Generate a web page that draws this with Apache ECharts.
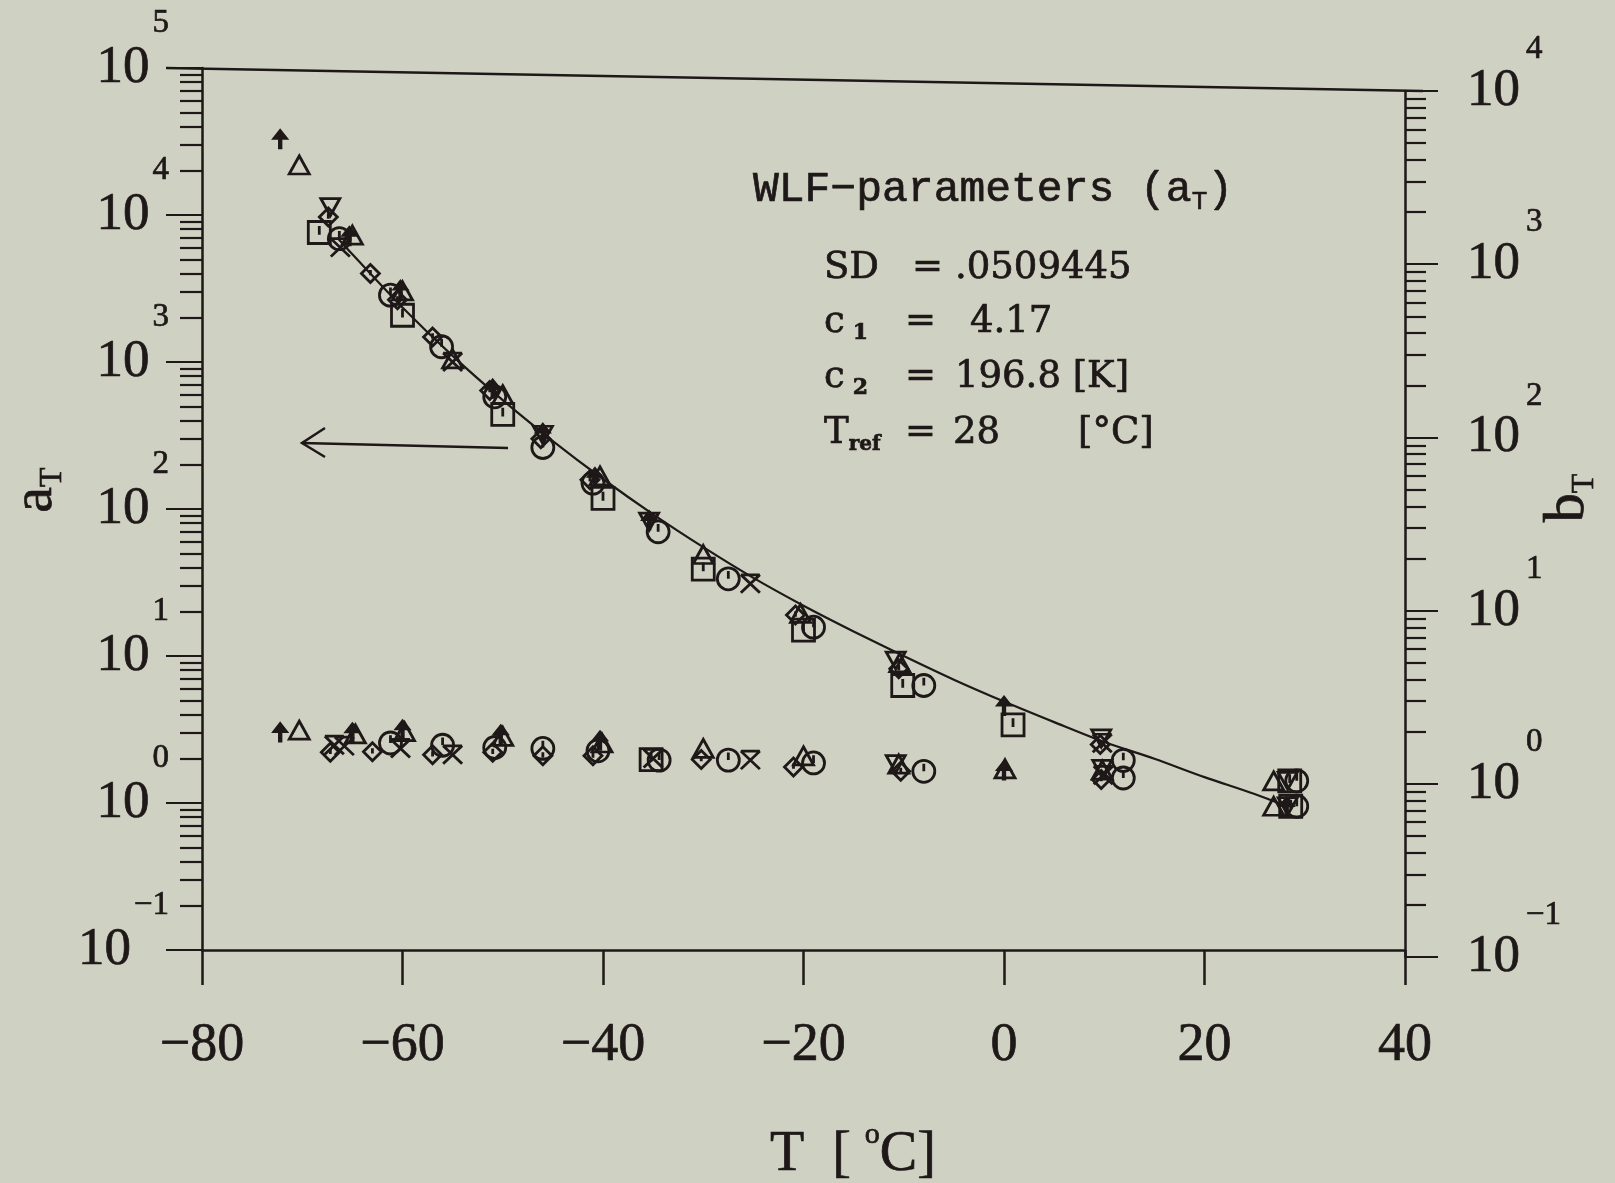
<!DOCTYPE html>
<html>
<head>
<meta charset="utf-8">
<script src="https://cdn.jsdelivr.net/npm/echarts@6/dist/echarts.min.js"></script>
<style>
html,body{margin:0;padding:0;background:#cfd1c2;}
#chart{width:1615px;height:1183px;}
</style>
</head>
<body>
<div id="chart"></div>
<script>
// ---------------- data ----------------
const xTickValues = [-80, -60, -40, -20, 0, 20, 40];

// WLF fit line, a_T versus T
const curveT = [-66.5, -65, -60, -55, -50, -45, -40, -35, -30, -25, -20, -15, -10, -5, 0, 5, 10, 15, 20, 25, 28];
const curveA = [7000, 5400, 2350, 1100, 550, 290, 160, 92, 55, 34, 22, 14.7, 10, 6.9, 4.9, 3.55, 2.6, 2.0, 1.5, 1.15, 0.96];

// shift factors a_T (left axis) by marker
const aTriangle = [[-70.3, 21900], [-65, 7300], [-60, 3050], [-55, 1050], [-50, 600], [-40.3, 168], [-30, 49], [-20.3, 19.5], [-10.4, 9.0], [26.9, 0.95]];
const aArrow    = [[-72.2, 32900], [-65.3, 7200], [-60.2, 3100], [-51, 660], [-46, 330], [-40.8, 165], [-35.4, 84], [0, 4.6], [28.2, 0.95]];
const aInvTri   = [[-67.2, 11300], [-46, 320], [-35.4, 82], [-10.8, 9.3], [9.7, 2.75], [28.3, 0.95]];
const aDiamond  = [[-67.4, 9700], [-63.2, 4000], [-60.5, 2650], [-57, 1480], [-51.3, 640], [-46.2, 300], [-41.3, 158], [-20.8, 19], [-10.5, 8.2], [9.6, 2.5]];
const aCircle   = [[-66.3, 6900], [-61.2, 2850], [-56.1, 1270], [-50.8, 580], [-46, 262], [-41, 150], [-34.5, 70], [-27.5, 33.5], [-19, 15.7], [-8, 6.3], [11.9, 1.95], [29.2, 0.95]];
const aSquare   = [[-68.3, 7600], [-60, 2080], [-50, 440], [-40, 118], [-30, 39], [-20, 15], [-10.1, 6.3], [0.9, 3.4], [28.6, 0.95]];
const aCross    = [[-66.2, 6000], [-55, 1000], [-25.3, 31], [9.8, 2.55]];

// shift factors b_T (right axis) by marker
const bArrow    = [[-72.2, 1.99], [-65, 1.98], [-60, 2.06], [-50.2, 1.93], [-40.3, 1.78], [0, 1.2]];
const bTriangle = [[-70.3, 2.04], [-64.7, 1.94], [-59.8, 2.0], [-50, 1.88], [-40.1, 1.72], [-30, 1.6], [-20, 1.45], [-10.5, 1.3], [0.1, 1.22], [9.8, 1.2], [26.9, 1.04]];
const bCross    = [[-66.8, 1.67], [-65.8, 1.65], [-60.2, 1.6], [-55, 1.47], [-35, 1.4], [-25.3, 1.37], [9.9, 1.12]];
const bDiamond  = [[-67.2, 1.52], [-63, 1.53], [-57, 1.47], [-51, 1.52], [-46, 1.45], [-41, 1.45], [-30.2, 1.38], [-21, 1.25], [-10.3, 1.18], [9.7, 1.06]];
const bCircle   = [[-61.2, 1.72], [-56, 1.67], [-50.8, 1.62], [-46, 1.6], [-40.5, 1.55], [-34.4, 1.37], [-27.5, 1.37], [-19, 1.32], [-8, 1.18], [11.9, 1.08], [29.2, 1.04]];
const bInvTri   = [[-10.8, 1.3], [9.8, 1.22], [28.3, 1.04]];
const bSquare   = [[-35.2, 1.38], [28.5, 1.04]];

// ---------------- styling ----------------
const INK = '#1e1818';
const SERIF = '"Liberation Serif", "Times New Roman", serif';
const DSERIF = '"DejaVu Serif", serif';
const MONO = '"Liberation Mono", monospace';
const TB = 0.7; // slight text emboldening, like the scanned print

const SYM = {
  triangle: 'path://M5,0 L10,9 L0,9 Z',
  arrow: 'path://M5,0 L10,6 L6,6 L6,12 L4,12 L4,6 L0,6 Z',
  invTri: 'path://M0,0 L10,0 L5,9 Z',
  diamond: 'path://M5,0 L10,5 L5,10 L0,5 Z M5,3 L5,6',
  circle: 'path://M10,0 A10,10 0 1,1 9.99,0 Z M10,3 L10,10',
  square: 'path://M0,0 L10,0 L10,10 L0,10 Z M5,2 L5,6',
  cross: 'path://M0,0 L10,0 M0,0 L10,10 M10,0 L0,10'
};

function pts(name, data, sym, size, filled, gi) {
  return {
    type: 'scatter', name: name, data: data, symbol: SYM[sym], symbolSize: size,
    xAxisIndex: gi, yAxisIndex: gi, silent: true, z: 3,
    itemStyle: { color: filled ? INK : 'rgba(0,0,0,0)', borderColor: INK, borderWidth: filled ? 1.5 : 2.8, opacity: 1 }
  };
}

const expStr = v => String(Math.round(Math.log10(v))).replace('-', '\u2212');

const curveData = curveT.map((t, i) => [t, curveA[i]]);

function tStyle(extra) {
  return Object.assign({ fill: INK, stroke: INK, lineWidth: TB, align: 'left', verticalAlign: 'middle' }, extra);
}

const chart = echarts.init(document.getElementById('chart'), null, { renderer: 'canvas' });

const option = {
  animation: false,
  backgroundColor: '#cfd1c2',
  grid: [
    { left: 202, top: 68, width: 1203, height: 882 },
    { left: 202, top: 91, width: 1203, height: 866 }
  ],
  xAxis: [
    {
      gridIndex: 0, type: 'value', min: -80, max: 40, interval: 20, position: 'bottom',
      axisLine: { show: true, onZero: false, lineStyle: { color: INK, width: 2.5 } },
      axisTick: { show: true, inside: false, length: 35, lineStyle: { color: INK, width: 2.5 } },
      axisLabel: {
        margin: 69, fontSize: 54, fontFamily: SERIF, color: INK, textBorderColor: INK, textBorderWidth: TB,
        formatter: v => String(v).replace('-', '\u2212')
      },
      splitLine: { show: false }
    },
    { gridIndex: 1, type: 'value', min: -80, max: 40, show: false, axisLine: { onZero: false } }
  ],
  yAxis: [
    {
      gridIndex: 0, type: 'log', logBase: 10, min: 0.1, max: 100000, splitNumber: 6, position: 'left',
      axisLine: { show: true, onZero: false, lineStyle: { color: INK, width: 2.5 } },
      axisTick: { show: true, inside: false, length: 36, lineStyle: { color: INK, width: 2.2 } },
      minorTick: { show: true, splitNumber: 9, length: 22, lineStyle: { color: INK, width: 2.2 } },
      splitLine: { show: false }, minorSplitLine: { show: false },
      axisLabel: {
        margin: 33,
        formatter: v => '{b|10}{s|' + expStr(v) + '}',
        rich: {
          b: { fontSize: 53, fontFamily: SERIF, color: INK, textBorderColor: INK, textBorderWidth: TB, lineHeight: 122 },
          s: { fontSize: 33, fontFamily: SERIF, color: INK, textBorderColor: INK, textBorderWidth: TB, lineHeight: 34, verticalAlign: 'top', padding: [0, 0, 0, 3] }
        }
      }
    },
    {
      gridIndex: 1, type: 'log', logBase: 10, min: 0.1, max: 10000, splitNumber: 5, position: 'right',
      axisLine: { show: true, onZero: false, lineStyle: { color: INK, width: 2.5 } },
      axisTick: { show: true, inside: false, length: 33, lineStyle: { color: INK, width: 2.2 } },
      minorTick: { show: true, splitNumber: 9, length: 21, lineStyle: { color: INK, width: 2.2 } },
      splitLine: { show: false }, minorSplitLine: { show: false },
      axisLabel: {
        margin: 62,
        formatter: v => '{b|10}{s|' + expStr(v) + '}',
        rich: {
          b: { fontSize: 53, fontFamily: SERIF, color: INK, textBorderColor: INK, textBorderWidth: TB, lineHeight: 116 },
          s: { fontSize: 33, fontFamily: SERIF, color: INK, textBorderColor: INK, textBorderWidth: TB, lineHeight: 34, verticalAlign: 'top', padding: [0, 0, 0, 6] }
        }
      }
    }
  ],
  series: [
    {
      type: 'line', name: 'WLF fit', data: curveData, xAxisIndex: 0, yAxisIndex: 0,
      symbol: 'none', smooth: 0.3, silent: true, z: 2,
      lineStyle: { color: INK, width: 2.2 }
    },
    pts('aT triangle', aTriangle, 'triangle', [20, 18], false, 0),
    pts('aT arrow', aArrow, 'arrow', [15, 19], true, 0),
    pts('aT inverted triangle', aInvTri, 'invTri', [19, 17], false, 0),
    pts('aT diamond', aDiamond, 'diamond', [18, 18], false, 0),
    pts('aT circle', aCircle, 'circle', [22, 22], false, 0),
    pts('aT square', aSquare, 'square', [22, 22], false, 0),
    pts('aT cross', aCross, 'cross', [19, 18], false, 0),
    pts('bT triangle', bTriangle, 'triangle', [20, 18], false, 1),
    pts('bT arrow', bArrow, 'arrow', [15, 19], true, 1),
    pts('bT inverted triangle', bInvTri, 'invTri', [19, 17], false, 1),
    pts('bT diamond', bDiamond, 'diamond', [18, 18], false, 1),
    pts('bT circle', bCircle, 'circle', [22, 22], false, 1),
    pts('bT square', bSquare, 'square', [22, 22], false, 1),
    pts('bT cross', bCross, 'cross', [19, 18], false, 1)
  ],
  graphic: [
    // slanted top frame line
    { type: 'line', z: 10, shape: { x1: 166, y1: 68, x2: 1423, y2: 91 }, style: { stroke: INK, lineWidth: 2.5 } },
    // arrow pointing to the left axis
    { type: 'polyline', z: 10, shape: { points: [[508, 448], [302, 443]] }, style: { stroke: INK, lineWidth: 2.5, fill: null } },
    { type: 'polyline', z: 10, shape: { points: [[325, 428], [302, 443], [325, 457]] }, style: { stroke: INK, lineWidth: 2.5, fill: null } },
    // parameter box
    { type: 'text', z: 10, x: 753, y: 190, style: tStyle({
        text: '{m|WLF\u2212parameters (a}{s|T}{m|)}',
        rich: { m: { fontSize: 43, fontFamily: MONO, fill: INK, lineHeight: 50 },
                s: { fontSize: 26, fontFamily: MONO, fill: INK, lineHeight: 26, verticalAlign: 'bottom' } } }) },
    { type: 'text', z: 10, x: 824, y: 268, style: tStyle({ text: 'SD', fontSize: 37, fontFamily: DSERIF }) },
    { type: 'text', z: 10, x: 824, y: 322, style: tStyle({
        text: '{m|c}{s|1}',
        rich: { m: { fontSize: 37, fontFamily: DSERIF, fill: INK, lineHeight: 44 },
                s: { fontSize: 22, fontFamily: DSERIF, fontWeight: 'bold', fill: INK, lineHeight: 20, verticalAlign: 'bottom', padding: [0, 0, 0, 8] } } }) },
    { type: 'text', z: 10, x: 824, y: 377, style: tStyle({
        text: '{m|c}{s|2}',
        rich: { m: { fontSize: 37, fontFamily: DSERIF, fill: INK, lineHeight: 44 },
                s: { fontSize: 22, fontFamily: DSERIF, fontWeight: 'bold', fill: INK, lineHeight: 20, verticalAlign: 'bottom', padding: [0, 0, 0, 8] } } }) },
    { type: 'text', z: 10, x: 824, y: 433, style: tStyle({
        text: '{m|T}{s|ref}',
        rich: { m: { fontSize: 37, fontFamily: DSERIF, fill: INK, lineHeight: 44 },
                s: { fontSize: 20, fontFamily: DSERIF, fontWeight: 'bold', fill: INK, lineHeight: 20, verticalAlign: 'bottom' } } }) },
    { type: 'text', z: 10, x: 912, y: 268, style: tStyle({ text: '=', fontSize: 37, fontFamily: DSERIF }) },
    { type: 'text', z: 10, x: 905, y: 322, style: tStyle({ text: '=', fontSize: 37, fontFamily: DSERIF }) },
    { type: 'text', z: 10, x: 905, y: 377, style: tStyle({ text: '=', fontSize: 37, fontFamily: DSERIF }) },
    { type: 'text', z: 10, x: 905, y: 433, style: tStyle({ text: '=', fontSize: 37, fontFamily: DSERIF }) },
    { type: 'text', z: 10, x: 955, y: 268, style: tStyle({ text: '.0509445', fontSize: 37, fontFamily: DSERIF }) },
    { type: 'text', z: 10, x: 970, y: 322, style: tStyle({ text: '4.17', fontSize: 37, fontFamily: DSERIF }) },
    { type: 'text', z: 10, x: 955, y: 377, style: tStyle({ text: '196.8 [K]', fontSize: 37, fontFamily: DSERIF }) },
    { type: 'text', z: 10, x: 953, y: 433, style: tStyle({ text: '28', fontSize: 37, fontFamily: DSERIF }) },
    { type: 'text', z: 10, x: 1078, y: 433, style: tStyle({ text: '[\u00b0C]', fontSize: 37, fontFamily: DSERIF }) },
    // axis titles
    { type: 'text', z: 10, x: 770, y: 1155, style: tStyle({
        text: '{m|T  [ }{o|o}{m|C]}',
        rich: { m: { fontSize: 56, fontFamily: SERIF, fill: INK, lineHeight: 70 },
                o: { fontSize: 30, fontFamily: SERIF, fill: INK, lineHeight: 36, verticalAlign: 'top' } } }) },
    { type: 'text', z: 10, x: 36, y: 490, rotation: Math.PI / 2, style: tStyle({
        text: '{m|a}{s|T}', align: 'center',
        rich: { m: { fontSize: 58, fontFamily: SERIF, fill: INK, lineHeight: 66 },
                s: { fontSize: 32, fontFamily: SERIF, fill: INK, lineHeight: 30, verticalAlign: 'bottom' } } }) },
    { type: 'text', z: 10, x: 1568, y: 498, rotation: Math.PI / 2, style: tStyle({
        text: '{m|b}{s|T}', align: 'center',
        rich: { m: { fontSize: 58, fontFamily: SERIF, fill: INK, lineHeight: 66 },
                s: { fontSize: 32, fontFamily: SERIF, fill: INK, lineHeight: 30, verticalAlign: 'bottom' } } }) }
  ]
};

chart.setOption(option);
</script>
</body>
</html>
